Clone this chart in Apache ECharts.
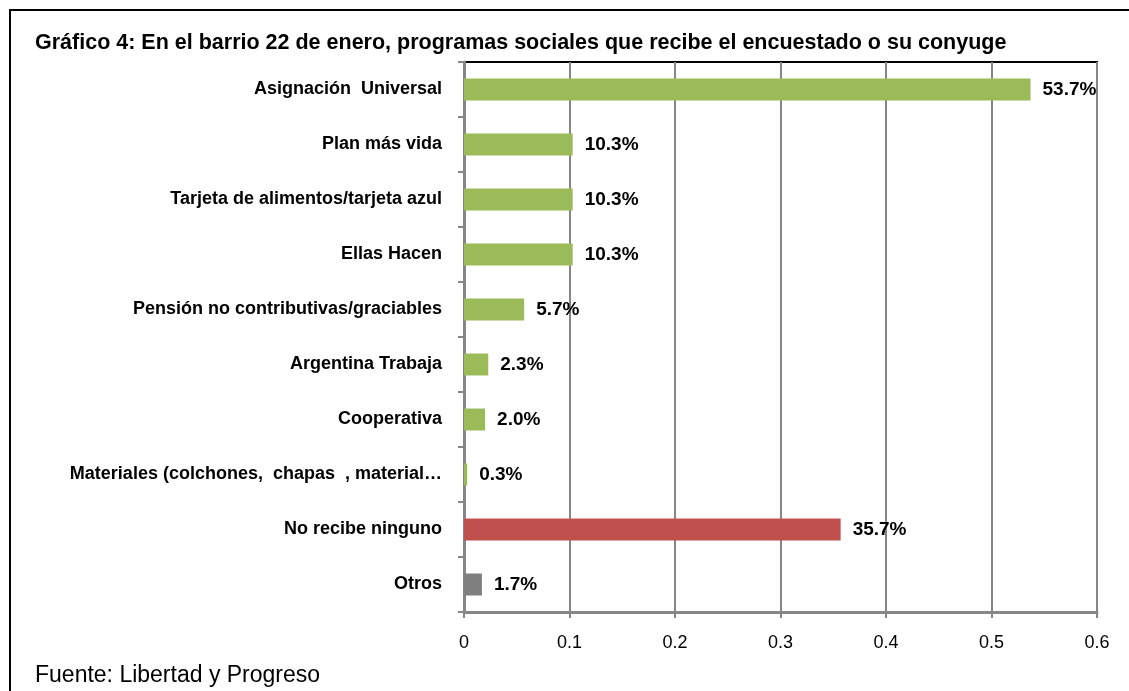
<!DOCTYPE html>
<html>
<head>
<meta charset="utf-8">
<script src="https://cdn.jsdelivr.net/npm/echarts@6/dist/echarts.min.js"></script>
<style>
  html, body { margin: 0; padding: 0; background: #fff; }
  #chart { width: 1129px; height: 691px; }
</style>
</head>
<body>
<div id="chart"></div>
<script>
// categorias (de arriba hacia abajo)
const categories = [
  'Asignación  Universal',
  'Plan más vida',
  'Tarjeta de alimentos/tarjeta azul',
  'Ellas Hacen',
  'Pensión no contributivas/graciables',
  'Argentina Trabaja',
  'Cooperativa',
  'Materiales (colchones,  chapas  , material…',
  'No recibe ninguno',
  'Otros'
];
const values = [0.537, 0.103, 0.103, 0.103, 0.057, 0.023, 0.020, 0.003, 0.357, 0.017];
const barColors = ['#9BBB59', '#9BBB59', '#9BBB59', '#9BBB59', '#9BBB59', '#9BBB59', '#9BBB59', '#9BBB59', '#C0504D', '#7F7F7F'];
const xTicks = [0, 0.1, 0.2, 0.3, 0.4, 0.5, 0.6];

const titleText = 'Gráfico 4: En el barrio 22 de enero, programas sociales que recibe el encuestado o su conyuge';
const sourceText = 'Fuente: Libertad y Progreso';

const font = 'Liberation Sans';
const chart = echarts.init(document.getElementById('chart'));

const option = {
  backgroundColor: '#fff',
  animation: false,
  title: {
    text: titleText,
    left: 30,
    top: 27,
    textStyle: { fontFamily: font, fontSize: 21.5, fontWeight: 'bold', color: '#000' }
  },
  graphic: [
    // marco exterior
    {
      type: 'rect',
      shape: { x: 10, y: 10, width: 1140, height: 700 },
      style: { fill: 'none', stroke: '#000', lineWidth: 2 }
    },
    {
      type: 'text',
      left: 35,
      top: 664,
      style: { text: sourceText, font: '23px "' + font + '"', fill: '#000' }
    }
  ],
  grid: {
    left: 464,
    right: 32,
    top: 62,
    bottom: 79,
    show: true,
    borderColor: '#000',
    borderWidth: 2
  },
  xAxis: {
    type: 'value',
    min: 0,
    max: 0.6,
    interval: 0.1,
    axisLine: { show: true, lineStyle: { color: '#868686', width: 3 } },
    axisTick: { show: true, length: 6, lineStyle: { color: '#868686', width: 2 } },
    splitLine: { show: true, lineStyle: { color: '#868686', width: 2 } },
    axisLabel: {
      margin: 22,
      fontFamily: font,
      fontSize: 18,
      color: '#000',
      formatter: v => {
        const t = xTicks.find(x => Math.abs(x - v) < 1e-9);
        return t === undefined ? '' : String(t);
      }
    }
  },
  yAxis: {
    type: 'category',
    data: categories,
    inverse: true,
    axisLine: { show: true, lineStyle: { color: '#868686', width: 3 } },
    axisTick: { show: true, length: 6, lineStyle: { color: '#868686', width: 2 } },
    axisLabel: {
      margin: 22,
      fontFamily: font,
      fontSize: 18,
      fontWeight: 'bold',
      color: '#000'
    }
  },
  series: [{
    type: 'bar',
    data: values.map((v, i) => ({ value: v, itemStyle: { color: barColors[i] } })),
    barWidth: 22,
    label: {
      show: true,
      position: 'right',
      distance: 12,
      fontFamily: font,
      fontSize: 19,
      fontWeight: 'bold',
      color: '#000',
      formatter: p => (p.value * 100).toFixed(1) + '%'
    }
  }]
};

chart.setOption(option);
</script>
</body>
</html>
